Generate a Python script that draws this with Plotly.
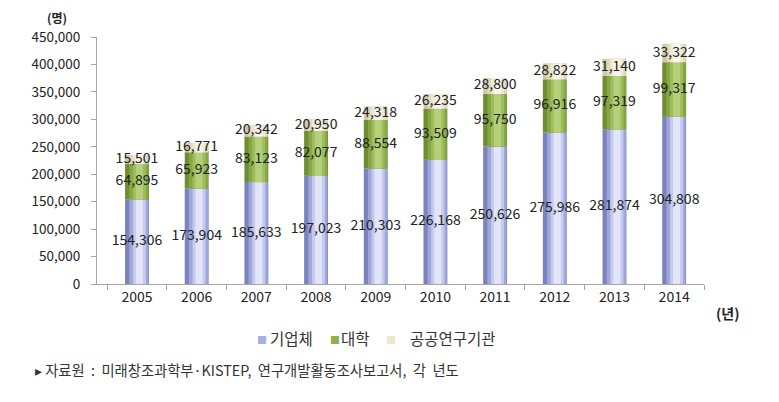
import plotly.graph_objects as go

years = ["2005", "2006", "2007", "2008", "2009", "2010", "2011", "2012", "2013", "2014"]
company = [154306, 173904, 185633, 197023, 210303, 226168, 250626, 275986, 281874, 304808]
university = [64895, 65923, 83123, 82077, 88554, 93509, 95750, 96916, 97319, 99317]
public_inst = [15501, 16771, 20342, 20950, 24318, 26235, 28800, 28822, 31140, 33322]
series_names = ["기업체", "대학", "공공연구기관"]
y_ticks = [0, 50000, 100000, 150000, 200000, 250000, 300000, 350000, 400000, 450000]

FONT = "Noto Sans CJK KR"
# body margin of the html page is 8px; compensate so the plot lands where the reference is
OFF = 8
PL, PR, PT, PB = 97, 704, 37, 284          # plot area in window pixels
W, H = 779, 402

# cylinder-like shading: layers (width, offset, colour) per series
shades = [
    [(0.40, -0.20, "#7B83BC"), (0.32, -0.13, "#9EA6DA"), (0.22, -0.07, "#C3C9EF"), (0.12, -0.02, "#E2E5F8")],
    [(0.40, -0.20, "#6F8D33"), (0.32, -0.13, "#86A744"), (0.22, -0.07, "#9DBD5B"), (0.12, -0.02, "#B5D07A")],
    [(0.40, -0.20, "#CFC8A6"), (0.32, -0.13, "#E0DABD"), (0.22, -0.07, "#EDE9D3"), (0.12, -0.02, "#F7F5EA")],
]
legend_colors = ["#A8B0E0", "#8DB04A", "#ECE8CF"]

fig = go.Figure()
series = [company, university, public_inst]
base = [0] * len(years)
label_traces = []
for name, vals, layers in zip(series_names, series, shades):
    for (w, off, col) in layers:
        fig.add_trace(go.Bar(
            x=years, y=vals, base=base, name=name,
            marker=dict(color=col, line=dict(width=0)),
            width=w, offset=off, showlegend=False, hoverinfo="skip",
        ))
    mids = [b + v / 2 for b, v in zip(base, vals)]
    label_traces.append(go.Scatter(
        x=years, y=mids, mode="text",
        text=[f"{v:,}" for v in vals],
        textfont=dict(family=FONT, size=14, color="#222222"),
        showlegend=False, hoverinfo="skip", cliponaxis=False,
    ))
    base = [b + v for b, v in zip(base, vals)]
for t in label_traces:
    fig.add_trace(t)

plot_w = PR - PL
plot_h = PB - PT


def px(x):
    return (x - PL) / plot_w


def py(y):
    return (PB - y) / plot_h


annotations = [
    dict(text="<b>(명)</b>", x=px(57), y=py(17.5), xanchor="center", yanchor="middle",
         font=dict(family=FONT, size=12, color="#222222")),
    dict(text="<b>(년)</b>", x=px(727), y=py(313), xanchor="center", yanchor="middle",
         font=dict(family=FONT, size=14, color="#222222")),
    dict(text="▸ 자료원  :  미래창조과학부·KISTEP,  연구개발활동조사보고서,  각  년도",
         x=px(33), y=py(369), xanchor="left", yanchor="middle",
         font=dict(family=FONT, size=14.3, color="#333333")),
]
legend_sq_x = [255, 328, 384]
legend_tx_x = [268, 339, 408]
for name, col, sx, tx in zip(series_names, legend_colors, legend_sq_x, legend_tx_x):
    annotations.append(dict(text="■", x=px(sx), y=py(339), xanchor="left", yanchor="middle",
                            font=dict(family=FONT, size=10, color=col)))
    annotations.append(dict(text=name, x=px(tx), y=py(338), xanchor="left", yanchor="middle",
                            font=dict(family=FONT, size=15.5, color="#333333")))
for a in annotations:
    a.update(xref="paper", yref="paper", showarrow=False)

fig.update_layout(
    barmode="overlay",
    width=W, height=H,
    margin=dict(l=PL - OFF, r=W - (PR - OFF), t=PT - OFF, b=H - (PB - OFF)),
    paper_bgcolor="white", plot_bgcolor="white",
    font=dict(family=FONT, size=14, color="#222222"),
    showlegend=False,
    xaxis=dict(
        type="category", range=[-0.67, 9.5],
        showline=True, linecolor="#A6A6A6", linewidth=1,
        ticks="outside", tickson="boundaries", ticklen=5, tickcolor="#A6A6A6",
        showgrid=False, tickfont=dict(family=FONT, size=14, color="#222222"),
    ),
    yaxis=dict(
        range=[0, 450000], tickvals=y_ticks, tickformat=",",
        showline=True, linecolor="#A6A6A6", linewidth=1,
        ticks="outside", ticklen=5, tickcolor="#A6A6A6", ticklabelstandoff=8,
        showgrid=False, zeroline=False,
        tickfont=dict(family=FONT, size=13.5, color="#222222"),
    ),
    annotations=annotations,
)

fig.write_html("out.html")
